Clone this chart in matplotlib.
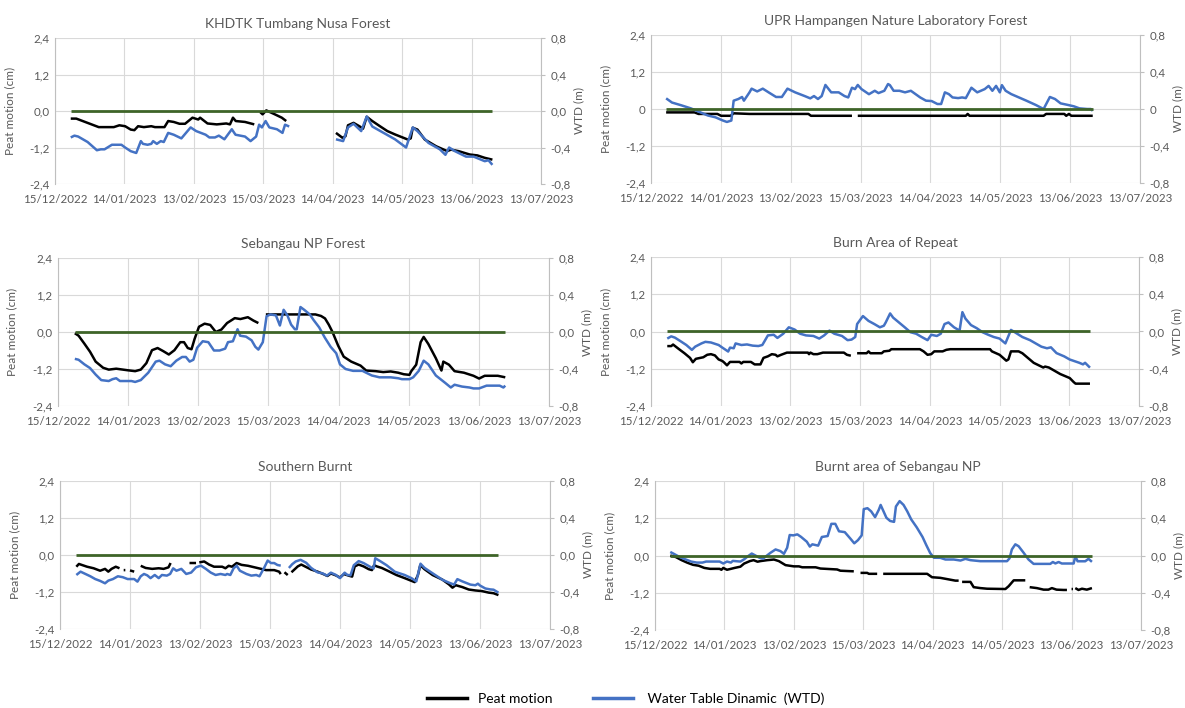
import numpy as np
import matplotlib
matplotlib.use('Agg')
import matplotlib.pyplot as plt
from matplotlib.lines import Line2D
from matplotlib.ticker import FuncFormatter
from datetime import date

nan = np.nan

# подписи осей
x_tick_labels = ['15/12/2022', '14/01/2023', '13/02/2023', '15/03/2023',
                 '14/04/2023', '14/05/2023', '13/06/2023', '13/07/2023']
peat_ticks = [-2.4, -1.2, 0.0, 1.2, 2.4]
wtd_ticks = [-0.8, -0.4, 0.0, 0.4, 0.8]
titles = ['KHDTK Tumbang Nusa Forest', 'UPR Hampangen Nature Laboratory Forest',
          'Sebangau NP Forest', 'Burn Area of Repeat',
          'Southern Burnt', 'Burnt area of Sebangau NP']
legend_labels = ['Peat motion', ' Water Table Dinamic  (WTD)']

# данные: (сутки от 15/12/2022, значение); nan = разрыв ряда
# peat motion в см, WTD в м
khdtk_peat = [
    (6.8, -0.25), (9.2, -0.25), (18.9, -0.53), (25.4, -0.53), (27.8, -0.47), (30.3, -0.50),
    (32.7, -0.61), (34.3, -0.63), (35.9, -0.50), (38.4, -0.53), (41.6, -0.50), (43.2, -0.53),
    (47.3, -0.53), (48.9, -0.33), (51.3, -0.36), (53.8, -0.42), (56.2, -0.42), (59.4, -0.22),
    (61.9, -0.28), (62.7, -0.22), (65.9, -0.41), (69.9, -0.44), (74.0, -0.41), (75.6, -0.44),
    (76.9, -0.22), (78.1, -0.33), (82.1, -0.36), (86.1, -0.44), (87.3, nan),
    (88.6, -0.03), (89.7, -0.11), (91.3, 0.02), (95.0, -0.11), (98.0, -0.22), (99.9, -0.33),
    (110.0, nan),
    (121.4, -0.72), (124.2, -0.88), (125.5, -0.83), (126.6, -0.47), (129.0, -0.39), (131.5, -0.50),
    (133.1, -0.58), (134.7, -0.19), (137.1, -0.33), (140.4, -0.50), (143.6, -0.66), (146.9, -0.77),
    (152.5, -0.94), (153.7, -0.90), (154.6, -0.55), (156.6, -0.61), (159.8, -0.94), (164.7, -1.16),
    (169.5, -1.32), (171.1, -1.27), (174.4, -1.32), (179.2, -1.43), (182.5, -1.46), (185.7, -1.54),
    (189.0, -1.60)]
khdtk_wtd = [
    (6.8, -0.29), (8.4, -0.27), (10.0, -0.28), (14.1, -0.34), (18.1, -0.43), (19.8, -0.42),
    (21.4, -0.42), (24.6, -0.37), (28.7, -0.37), (30.3, -0.40), (32.7, -0.44), (35.1, -0.46),
    (37.1, -0.33), (38.0, -0.36), (40.0, -0.37), (41.6, -0.36), (42.4, -0.33), (44.0, -0.36),
    (45.7, -0.33), (47.0, -0.34), (48.9, -0.24), (51.3, -0.26), (54.6, -0.30), (58.6, -0.18),
    (61.0, -0.22), (65.1, -0.26), (66.7, -0.29), (69.1, -0.29), (70.8, -0.27), (73.2, -0.31),
    (76.4, -0.20), (78.0, -0.26), (82.1, -0.28), (84.5, -0.33), (86.9, -0.28), (88.2, -0.15),
    (89.4, -0.18), (91.0, -0.11), (92.6, -0.18), (95.9, -0.20), (98.3, -0.24), (99.4, -0.15),
    (101.2, -0.17), (110.0, nan),
    (121.4, -0.31), (124.5, -0.33), (126.6, -0.18), (129.0, -0.14), (132.3, -0.22), (134.7, -0.06),
    (137.1, -0.17), (142.0, -0.24), (146.9, -0.31), (151.7, -0.40), (154.6, -0.18), (156.6, -0.22),
    (161.4, -0.35), (166.3, -0.42), (168.7, -0.48), (170.3, -0.40), (172.8, -0.44), (177.6, -0.50),
    (180.9, -0.50), (185.7, -0.55), (187.3, -0.54), (189.0, -0.59)]

upr_peat = [
    (6.5, -0.11), (18.7, -0.11), (20.4, -0.16), (28.5, -0.16), (30.1, -0.22), (34.2, -0.22),
    (35.5, -0.14), (42.3, -0.16), (67.6, -0.16), (68.7, -0.22), (86.3, -0.22), (87.5, nan),
    (88.8, -0.22), (135.2, -0.22), (136.0, -0.16), (136.8, -0.22), (168.6, -0.22), (169.7, -0.16),
    (177.5, -0.16), (178.3, -0.22), (179.5, -0.16), (180.5, -0.22), (189.7, -0.22)]
upr_wtd = [
    (6.5, 0.115), (9.0, 0.07), (13.0, 0.04), (17.1, 0.007), (21.2, -0.036), (24.4, -0.07),
    (27.7, -0.09), (30.9, -0.125), (32.6, -0.14), (34.5, -0.125), (35.5, 0.09), (37.5, 0.108),
    (39.1, 0.13), (39.9, 0.09), (42.3, 0.18), (43.2, 0.22), (45.6, 0.19), (48.0, 0.22),
    (50.5, 0.18), (53.7, 0.13), (56.2, 0.13), (58.6, 0.22), (61.9, 0.18), (66.0, 0.14),
    (68.4, 0.115), (70.0, 0.14), (71.7, 0.108), (73.3, 0.14), (74.9, 0.26), (77.4, 0.18),
    (80.6, 0.18), (83.1, 0.14), (84.7, 0.125), (86.3, 0.23), (87.6, 0.215), (88.8, 0.26),
    (90.4, 0.215), (93.6, 0.16), (96.1, 0.197), (97.7, 0.172), (100.2, 0.197), (101.8, 0.27),
    (102.6, 0.258), (104.2, 0.197), (106.7, 0.197), (109.1, 0.18), (111.6, 0.197), (115.6, 0.125),
    (118.1, 0.09), (120.5, 0.086), (123.0, 0.054), (124.6, 0.054), (126.2, 0.18), (127.9, 0.161),
    (129.5, 0.125), (131.9, 0.118), (133.6, 0.125), (135.2, 0.118), (137.6, 0.23), (140.1, 0.18),
    (143.3, 0.215), (145.0, 0.25), (146.6, 0.197), (148.2, 0.25), (149.8, 0.18), (150.7, 0.258),
    (152.3, 0.197), (154.7, 0.161), (158.0, 0.125), (161.2, 0.09), (165.3, 0.043), (168.6, 0.0),
    (171.3, 0.13), (173.5, 0.108), (175.9, 0.061), (179.2, 0.043), (181.6, 0.029), (184.0, 0.007),
    (187.3, 0.0), (188.9, 0.0), (189.7, -0.02)]

sebangau_peat = [
    (7.2, -0.04), (8.8, -0.12), (11.3, -0.38), (13.7, -0.64), (16.1, -0.96), (19.3, -1.16),
    (21.7, -1.22), (24.9, -1.19), (29.7, -1.24), (33.0, -1.27), (35.4, -1.22), (37.8, -1.01),
    (40.2, -0.59), (42.6, -0.52), (45.0, -0.62), (47.4, -0.73), (49.8, -0.59), (52.3, -0.33),
    (53.9, -0.33), (55.5, -0.52), (57.1, -0.56), (58.4, -0.23), (60.3, 0.17), (62.7, 0.27),
    (65.1, 0.23), (67.5, 0.0), (69.9, 0.08), (72.3, 0.29), (75.6, 0.45), (78.0, 0.42),
    (81.2, 0.48), (83.6, 0.37), (85.7, 0.29), (87.0, nan),
    (88.9, 0.57), (110.1, 0.57), (112.5, 0.52), (114.2, 0.44), (115.8, 0.24), (117.4, 0.0),
    (119.8, -0.44), (122.2, -0.80), (125.4, -0.96), (129.4, -1.09), (131.8, -1.25), (135.9, -1.27),
    (139.1, -1.30), (142.3, -1.28), (145.5, -1.32), (147.9, -1.37), (150.3, -1.39), (151.1, -1.27),
    (153.2, -1.06), (155.1, -0.33), (156.4, -0.16), (158.4, -0.39), (161.6, -0.85), (164.0, -1.25),
    (164.8, -0.96), (167.2, -1.06), (169.6, -1.27), (173.6, -1.32), (177.7, -1.42), (180.1, -1.51),
    (182.5, -1.42), (188.1, -1.42), (191.3, -1.47)]
sebangau_wtd = [
    (7.2, -0.29), (8.8, -0.30), (11.3, -0.35), (13.7, -0.39), (16.1, -0.46), (18.5, -0.52),
    (21.7, -0.53), (23.3, -0.51), (24.9, -0.50), (26.5, -0.53), (31.4, -0.53), (33.0, -0.54),
    (35.4, -0.52), (38.6, -0.44), (41.8, -0.32), (43.4, -0.31), (45.8, -0.35), (48.2, -0.37),
    (50.6, -0.31), (53.1, -0.27), (54.7, -0.27), (56.3, -0.32), (57.9, -0.30), (59.5, -0.17),
    (61.9, -0.10), (64.3, -0.11), (66.7, -0.20), (69.1, -0.20), (71.5, -0.18), (72.7, -0.11),
    (74.8, -0.10), (76.8, 0.03), (77.9, -0.04), (80.4, -0.05), (82.8, -0.09), (84.4, -0.16),
    (85.7, -0.19), (87.6, -0.11), (89.2, 0.17), (90.8, 0.19), (93.2, 0.18), (94.9, 0.07),
    (96.5, 0.24), (98.1, 0.18), (99.7, 0.08), (101.3, 0.03), (102.1, 0.03), (103.7, 0.27),
    (105.3, 0.24), (107.7, 0.19), (109.3, 0.13), (111.7, 0.05), (114.1, -0.06), (116.6, -0.16),
    (119.0, -0.23), (120.6, -0.35), (123.0, -0.40), (126.2, -0.42), (130.2, -0.42), (134.2, -0.47),
    (135.9, -0.48), (137.5, -0.49), (142.3, -0.49), (145.5, -0.50), (147.1, -0.51), (150.3, -0.51),
    (151.9, -0.49), (154.3, -0.42), (156.4, -0.31), (158.4, -0.35), (161.6, -0.47), (165.6, -0.55),
    (168.0, -0.60), (169.6, -0.57), (172.8, -0.59), (176.0, -0.60), (177.7, -0.61), (180.1, -0.61),
    (183.3, -0.58), (188.9, -0.58), (190.5, -0.60), (191.3, -0.58)]

repeat_peat = [
    (7.0, -0.47), (8.7, -0.47), (9.5, -0.42), (11.9, -0.56), (14.4, -0.70), (16.8, -0.85),
    (18.0, -0.99), (19.3, -0.88), (22.5, -0.83), (24.2, -0.75), (25.8, -0.73), (27.5, -0.77),
    (29.1, -0.90), (30.7, -0.95), (31.5, -1.00), (32.7, -1.09), (34.0, -0.98), (38.1, -0.98),
    (38.9, -1.03), (39.7, -0.98), (43.0, -0.98), (44.6, -1.06), (47.1, -1.06), (48.4, -0.85),
    (50.3, -0.80), (52.0, -0.73), (53.6, -0.75), (54.4, -0.80), (56.0, -0.75), (58.5, -0.68),
    (67.5, -0.68), (68.0, -0.73), (68.6, -0.68), (69.9, -0.73), (71.6, -0.73), (74.0, -0.68),
    (83.0, -0.68), (84.3, -0.75), (86.0, -0.78), (87.3, nan),
    (88.7, -0.70), (92.8, -0.70), (93.6, -0.64), (94.4, -0.70), (99.3, -0.70), (100.2, -0.64),
    (102.6, -0.62), (103.4, -0.57), (115.7, -0.57), (117.3, -0.64), (119.0, -0.75), (120.6, -0.73),
    (121.9, -0.64), (125.5, -0.64), (127.1, -0.59), (128.8, -0.57), (145.9, -0.57), (146.7, -0.64),
    (150.0, -0.75), (152.9, -0.94), (153.8, -0.90), (154.9, -0.64), (158.2, -0.64), (159.8, -0.70),
    (164.7, -1.01), (168.8, -1.16), (169.6, -1.13), (171.2, -1.16), (176.1, -1.37), (180.2, -1.50),
    (181.9, -1.63), (182.7, -1.68), (188.9, -1.68)]
repeat_wtd = [
    (7.0, -0.076), (8.7, -0.052), (10.3, -0.066), (12.7, -0.104), (15.2, -0.145), (17.6, -0.197),
    (19.0, -0.163), (21.7, -0.128), (23.4, -0.111), (25.8, -0.118), (29.1, -0.145), (30.7, -0.173),
    (33.2, -0.215), (34.0, -0.173), (35.6, -0.180), (36.4, -0.128), (38.9, -0.145), (41.3, -0.139),
    (43.8, -0.152), (46.2, -0.156), (47.9, -0.145), (48.7, -0.111), (50.3, -0.042), (52.8, -0.035),
    (54.4, -0.069), (56.9, -0.024), (59.3, 0.045), (61.8, 0.021), (64.2, -0.024), (66.7, -0.042),
    (69.9, -0.048), (72.4, -0.076), (74.5, -0.042), (76.8, 0.010), (78.9, -0.024), (82.2, -0.048),
    (84.6, -0.093), (86.3, -0.087), (87.9, -0.059), (88.7, 0.080), (91.2, 0.166), (93.6, 0.114),
    (96.1, 0.080), (98.5, 0.045), (100.2, 0.062), (101.0, 0.097), (102.9, 0.194), (104.2, 0.149),
    (106.7, 0.097), (109.2, 0.045), (111.6, -0.007), (114.1, -0.024), (116.5, -0.059), (119.0, -0.093),
    (120.6, -0.035), (123.0, -0.048), (124.7, -0.024), (126.3, 0.080), (128.0, 0.097), (130.4, 0.045),
    (132.8, 0.010), (134.0, 0.208), (135.3, 0.139), (137.7, 0.069), (140.2, 0.035), (142.6, -0.007),
    (145.1, -0.035), (147.5, -0.059), (150.0, -0.076), (152.5, -0.128), (154.9, 0.017), (156.5, -0.007),
    (159.8, -0.059), (163.1, -0.093), (168.0, -0.163), (170.4, -0.180), (172.1, -0.170), (174.5, -0.232),
    (177.8, -0.267), (180.2, -0.301), (184.3, -0.336), (185.9, -0.353), (186.8, -0.336), (188.9, -0.388)]

southern_peat = [
    (7.0, -0.38), (8.1, -0.29), (11.6, -0.38), (14.4, -0.43), (17.2, -0.51), (19.3, -0.45),
    (20.7, -0.54), (22.1, -0.45), (23.9, -0.38), (25.5, -0.43), (26.4, nan),
    (27.3, -0.49), (28.0, -0.49), (29.0, nan),
    (30.0, -0.50), (31.8, -0.54), (33.0, nan),
    (34.6, -0.35), (36.7, -0.42), (39.5, -0.45), (42.3, -0.43), (44.4, -0.45), (46.5, -0.40),
    (47.4, -0.26), (51.0, nan),
    (55.5, -0.26), (58.3, -0.26), (59.0, nan),
    (59.7, -0.24), (61.8, -0.21), (63.9, -0.31), (66.0, -0.38), (69.5, -0.38), (70.9, -0.43),
    (72.3, -0.35), (73.7, -0.38), (75.7, -0.26), (77.8, -0.32), (80.6, -0.35), (83.4, -0.40),
    (86.2, -0.45), (88.3, -0.49), (91.8, -0.49), (93.9, -0.54), (94.6, -0.62), (95.4, nan),
    (96.2, -0.56), (97.6, -0.65), (98.4, nan),
    (99.2, -0.56), (101.9, -0.37), (103.4, -0.31), (105.5, -0.39), (107.6, -0.47), (110.4, -0.54),
    (113.2, -0.63), (114.6, -0.68), (116.1, -0.60), (118.2, -0.66), (120.0, -0.73), (121.7, -0.62),
    (124.2, -0.68), (125.2, -0.70), (126.3, -0.37), (128.0, -0.31), (130.1, -0.37), (132.3, -0.46),
    (133.7, -0.49), (134.6, -0.33), (135.8, -0.37), (137.9, -0.42), (140.7, -0.52), (144.2, -0.65),
    (147.7, -0.75), (152.0, -0.88), (153.4, -0.65), (154.4, -0.33), (156.2, -0.46), (159.7, -0.65),
    (163.9, -0.80), (166.8, -0.96), (168.2, -1.06), (169.6, -0.98), (172.4, -1.04), (175.2, -1.12),
    (178.0, -1.15), (180.8, -1.17), (183.7, -1.22), (185.8, -1.24), (187.9, -1.30)]
southern_wtd = [
    (7.0, -0.216), (8.8, -0.18), (10.9, -0.205), (13.0, -0.23), (15.1, -0.26), (17.2, -0.28),
    (19.3, -0.306), (20.7, -0.277), (22.7, -0.26), (24.8, -0.23), (26.9, -0.24), (29.0, -0.26),
    (31.8, -0.26), (33.2, -0.288), (34.6, -0.23), (36.0, -0.205), (37.4, -0.22), (38.8, -0.25),
    (40.6, -0.216), (42.3, -0.25), (43.7, -0.216), (45.8, -0.223), (47.2, -0.205), (48.5, -0.144),
    (49.9, -0.17), (52.0, -0.15), (54.1, -0.205), (56.2, -0.19), (58.3, -0.133), (60.4, -0.115),
    (62.5, -0.15), (64.6, -0.19), (66.7, -0.216), (68.8, -0.205), (70.9, -0.216), (71.6, -0.205),
    (73.0, -0.216), (74.4, -0.144), (75.7, -0.115), (77.1, -0.17), (79.9, -0.205), (82.0, -0.223),
    (84.1, -0.216), (85.5, -0.23), (87.6, -0.133), (89.0, -0.06), (90.4, -0.087), (91.8, -0.087),
    (93.2, -0.108), (94.6, -0.115), (96.3, nan),
    (98.1, -0.14), (99.5, -0.10), (101.0, -0.07), (103.1, -0.052), (105.5, -0.084), (107.6, -0.139),
    (110.4, -0.188), (112.5, -0.198), (114.4, -0.223), (116.1, -0.191), (118.2, -0.215), (120.0, -0.25),
    (122.0, -0.191), (123.1, -0.215), (124.5, -0.22), (125.9, -0.111), (128.0, -0.066), (130.1, -0.087),
    (133.0, -0.129), (134.4, -0.146), (135.1, -0.035), (137.2, -0.066), (140.0, -0.111), (143.5, -0.181),
    (147.7, -0.216), (150.6, -0.25), (152.7, -0.285), (154.5, -0.094), (156.2, -0.139), (159.7, -0.198),
    (163.9, -0.268), (166.8, -0.30), (168.9, -0.32), (170.3, -0.261), (172.4, -0.285), (175.9, -0.32),
    (178.0, -0.327), (179.1, -0.31), (180.0, -0.33), (182.3, -0.362), (184.4, -0.372), (185.8, -0.375),
    (187.9, -0.407)]

burnt_peat = [
    (6.6, 0.0), (9.0, -0.05), (11.5, -0.15), (13.9, -0.23), (16.4, -0.30), (18.9, -0.33),
    (21.3, -0.40), (23.8, -0.43), (27.9, -0.43), (28.7, -0.46), (29.5, -0.40), (31.1, -0.46),
    (32.8, -0.43), (34.4, -0.40), (36.9, -0.36), (38.5, -0.26), (41.0, -0.18), (42.6, -0.15),
    (44.3, -0.20), (45.6, -0.18), (48.5, -0.15), (51.4, -0.13), (53.5, -0.18), (56.4, -0.31),
    (60.0, -0.35), (62.2, -0.35), (63.6, -0.38), (69.4, -0.38), (71.5, -0.42), (78.7, -0.45),
    (80.1, -0.49), (85.9, -0.51), (87.3, nan),
    (88.8, -0.56), (91.7, -0.56), (92.4, -0.59), (96.0, -0.59), (97.3, nan),
    (98.6, -0.59), (117.6, -0.59), (119.7, -0.70), (123.3, -0.72), (126.2, -0.76), (129.8, -0.81),
    (131.2, -0.81), (132.0, nan),
    (132.7, -0.85), (136.3, -0.85), (137.7, -1.02), (140.6, -1.05), (143.5, -1.07), (151.4, -1.08),
    (152.8, -0.99), (155.0, -0.80), (160.0, -0.80), (161.0, nan),
    (161.9, -1.02), (165.0, -1.05), (167.9, -1.10), (170.0, -1.10), (171.5, -1.05), (173.5, -1.10),
    (176.5, -1.11), (178.0, -1.11), (179.0, nan),
    (180.0, -1.08), (180.6, -1.08), (181.2, nan),
    (181.6, -1.05), (183.0, -1.11), (184.5, -1.07), (186.6, -1.10), (188.8, -1.05)]
burnt_wtd = [
    (6.6, 0.038), (8.2, 0.017), (10.7, -0.017), (13.1, -0.041), (15.6, -0.065), (18.0, -0.076),
    (20.5, -0.076), (22.1, -0.065), (24.6, -0.065), (27.9, -0.065), (29.5, -0.086), (31.1, -0.065),
    (32.8, -0.076), (33.6, -0.058), (36.9, -0.065), (38.5, -0.041), (40.2, -0.007), (41.8, 0.021),
    (43.4, 0.0), (45.1, -0.024), (46.7, -0.034), (48.4, 0.0), (49.9, 0.029), (52.1, 0.065),
    (54.2, 0.047), (55.7, 0.018), (57.1, 0.083), (58.2, 0.22), (59.8, 0.216), (61.5, 0.227),
    (63.1, 0.20), (65.6, 0.148), (66.9, 0.096), (68.0, 0.12), (70.5, 0.106), (72.1, 0.199),
    (74.6, 0.209), (76.2, 0.34), (77.9, 0.34), (79.5, 0.26), (82.0, 0.251), (84.4, 0.182),
    (86.1, 0.131), (87.7, 0.165), (89.3, 0.216), (90.2, 0.498), (91.8, 0.508), (93.4, 0.474),
    (95.1, 0.412), (96.7, 0.491), (97.5, 0.543), (100.0, 0.405), (101.6, 0.371), (103.3, 0.361),
    (104.1, 0.526), (105.7, 0.584), (107.4, 0.543), (109.0, 0.474), (110.7, 0.388), (113.1, 0.302),
    (115.6, 0.199), (117.2, 0.113), (118.9, 0.027), (120.5, -0.024), (123.3, -0.025), (125.5, -0.043),
    (129.1, -0.043), (132.0, -0.054), (134.1, -0.036), (136.3, -0.05), (140.6, -0.061), (152.1, -0.061),
    (153.2, -0.03), (154.2, 0.065), (155.7, 0.12), (157.1, 0.10), (159.3, 0.029), (161.4, -0.043),
    (163.6, -0.09), (170.8, -0.09), (171.9, -0.07), (173.0, -0.085), (174.4, -0.07), (175.8, -0.086),
    (180.9, -0.086), (181.6, -0.007), (182.6, -0.062), (185.9, -0.062), (187.3, -0.036), (188.8, -0.068)]

series = [(khdtk_peat, khdtk_wtd), (upr_peat, upr_wtd), (sebangau_peat, sebangau_wtd),
          (repeat_peat, repeat_wtd), (southern_peat, southern_wtd), (burnt_peat, burnt_wtd)]

# положение осей в пикселях (x0, y0, x1, y1) на картинке 1185x708
W, H = 1185, 708
boxes = [(55, 38, 541, 184), (651, 35, 1140, 183),
         (58, 258, 549, 406), (651, 257, 1139, 406),
         (60, 481, 550, 629), (655, 481, 1141, 630)]

start = date(2022, 12, 15)


def day_of(s):
    d, m, y = map(int, s.split('/'))
    return (date(y, m, d) - start).days


x_ticks = [day_of(s) for s in x_tick_labels]

GRAY = '#595959'
BLUE = '#4472c4'
GREEN = '#3e6428'
plt.rcParams['font.family'] = ['Lato', 'DejaVu Sans']


def comma_fmt(short_zero):
    def f(v, pos):
        if abs(v) < 1e-9:
            return '0' if short_zero else '0,0'
        return f'{v:.1f}'.replace('.', ',')
    return FuncFormatter(f)


fig = plt.figure(figsize=(W / 100, H / 100), dpi=100)

for i in range(6):
    x0, y0, x1, y1 = boxes[i]
    ax = fig.add_axes([x0 / W, 1 - y1 / H, (x1 - x0) / W, (y1 - y0) / H])
    peat = np.array(series[i][0], dtype=float)
    wtd = np.array(series[i][1], dtype=float)
    short_zero = (i == 1)  # на втором графике ноль подписан как "0"

    ax.plot(peat[:, 0], peat[:, 1], color='black', lw=1.8, solid_capstyle='butt')
    ax.set_xlim(x_ticks[0], x_ticks[-1])
    ax.set_ylim(peat_ticks[0], peat_ticks[-1])
    ax.set_xticks(x_ticks)
    ax.set_xticklabels(x_tick_labels)
    ax.set_yticks(peat_ticks)
    ax.yaxis.set_major_formatter(comma_fmt(short_zero))
    ax.grid(color='#d9d9d9', lw=0.8)
    ax.set_axisbelow(True)
    ax.tick_params(axis='y', length=0, labelsize=8.3, labelcolor=GRAY, pad=4)
    ax.tick_params(axis='x', length=0, labelsize=8.3, labelcolor=GRAY, pad=7)
    for s in ['top', 'bottom', 'right']:
        ax.spines[s].set_visible(False)
    ax.spines['left'].set_color('#bfbfbf')
    ax.set_ylabel('Peat motion (cm)', fontsize=8.5, color=GRAY)
    ax.yaxis.set_label_coords(-0.082, 0.5)
    ax.set_title(titles[i], fontsize=10, color=GRAY, pad=7)

    ax2 = ax.twinx()
    ax2.plot(wtd[:, 0], wtd[:, 1], color=BLUE, lw=1.8, solid_capstyle='butt')
    days_all = np.concatenate([peat[:, 0], wtd[:, 0]])
    ax2.hlines(0, days_all.min(), days_all.max(), color=GREEN, lw=2)
    ax2.set_ylim(wtd_ticks[0], wtd_ticks[-1])
    ax2.set_yticks(wtd_ticks)
    ax2.yaxis.set_major_formatter(comma_fmt(short_zero))
    ax2.tick_params(axis='y', length=3, color='#bfbfbf', labelsize=8.3, labelcolor=GRAY, pad=4)
    for s in ['top', 'bottom', 'left']:
        ax2.spines[s].set_visible(False)
    ax2.spines['right'].set_color('#bfbfbf')
    ax2.set_ylabel('WTD (m)', fontsize=8.5, color=GRAY)
    ax2.yaxis.set_label_coords(1.066, 0.5)

handles = [Line2D([], [], color='black', lw=2.5), Line2D([], [], color=BLUE, lw=2.5)]
fig.legend(handles, legend_labels, loc='center', bbox_to_anchor=(0.528, 0.013), ncol=2,
           frameon=False, fontsize=10, handlelength=2.9, columnspacing=2.9, handletextpad=0.8,
           labelcolor='black')

fig.savefig('out.png', dpi=100)
